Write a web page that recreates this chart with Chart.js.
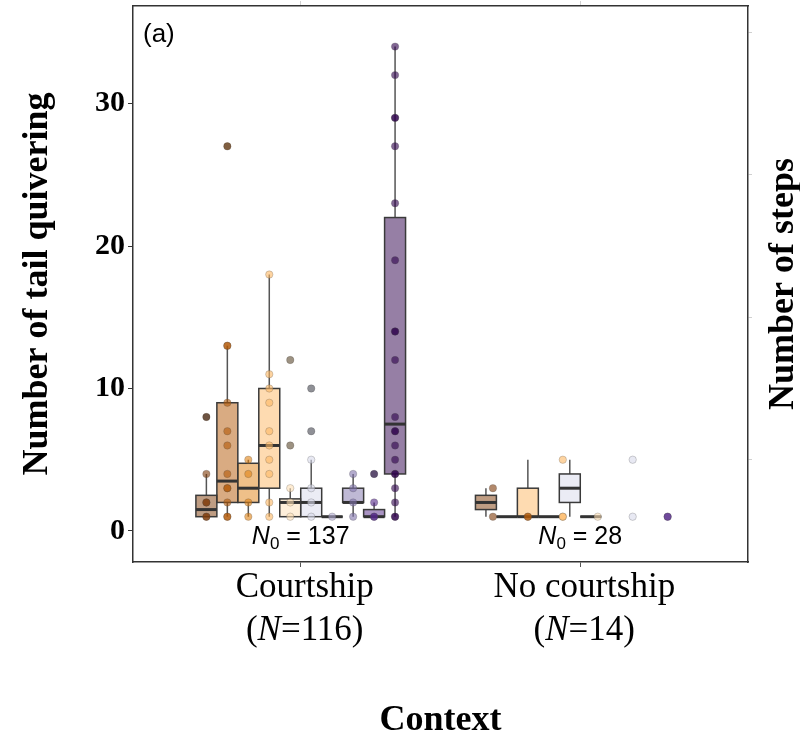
<!DOCTYPE html>
<html>
<head>
<meta charset="utf-8">
<title>Tail quivering by context</title>
<script src="https://cdn.jsdelivr.net/npm/chart.js@4.4.1/dist/chart.umd.min.js"></script>
<style>
  body { margin: 0; background: #fff; }
  canvas { display: block; }
</style>
</head>
<body>
<canvas id="tailChart" width="800" height="737"></canvas>
<script>
'use strict';

let categories = ['Courtship', 'No courtship'];
let categoryN = [116, 14];
let zeroCounts = [137, 28];

let yTicks = [0, 10, 20, 30];
let stepTicks = [5, 15, 25, 35];

// one colour per level (PuOr, brown -> purple)
let levelColors = ['#7f3b08', '#b35806', '#e08214', '#fdb863', '#fee0b6', '#d8daeb', '#b2abd2', '#8073ac', '#542788', '#2d004b'];

// Courtship boxes, one per level
let courtLow = [1, 1, 1, 1, 1, 1, 1, 1, 1, 1];
let courtQ1 = [1, 2, 2, 3, 1, 1, 1, 2, 1, 4];
let courtMedian = [1.5, 3.5, 3, 6, 2, 2, 1, 2, 1, 7.5];
let courtQ3 = [2.5, 9, 4.75, 10, 2.25, 3, 1, 3, 1.5, 22];
let courtHigh = [4, 13, 5, 18, 3, 5, 1, 4, 2, 34];
let courtOutliers = [[8], [27], [], [], [6, 12], [7, 10], [], [], [4], []];
let courtPoints = [
  [1, 1, 2, 2, 4, 8],
  [1, 1, 2, 3, 3, 4, 6, 7, 9, 13, 13, 27],
  [1, 2, 4, 5],
  [1, 2, 4, 5, 6, 7, 9, 10, 11, 18],
  [1, 2, 3, 6, 12],
  [1, 2, 3, 5, 7, 10],
  [1],
  [1, 2, 3, 4],
  [1, 1, 2, 4],
  [1, 1, 2, 3, 4, 4, 5, 6, 7, 7, 8, 12, 14, 14, 19, 23, 27, 29, 29, 32, 34]
];

// No courtship: only six levels present
let noCourtLevels = [0, 1, 3, 4, 5, 8];
let noCourtLow = [1, 1, 1, 1, 1, 1];
let noCourtQ1 = [1.5, 1, 1, 1, 2, 1];
let noCourtMedian = [2, 1, 1, 1, 3, 1];
let noCourtQ3 = [2.5, 1, 3, 1, 4, 1];
let noCourtHigh = [3, 1, 5, 1, 5, 1];
let noCourtPoints = [[1, 3], [1, 1], [1, 1, 5], [1], [1, 5], [1, 1]];

function hexToRgba(hex, alpha) {
  let r = parseInt(hex.slice(1, 3), 16);
  let g = parseInt(hex.slice(3, 5), 16);
  let b = parseInt(hex.slice(5, 7), 16);
  return `rgba(${r},${g},${b},${alpha})`;
}

let boxSlot = 0.075;

function boxCenter(cat, slot) {
  return cat + (slot - 4.5) * boxSlot;
}

function noCourtPointX(j) {
  return 2 + (j - 2.5) * 0.125;
}

// boxes as a flat list built from the arrays above
let boxes = [];
for (let i = 0; i < levelColors.length; i++) {
  boxes.push({ x: boxCenter(1, i), low: courtLow[i], q1: courtQ1[i], med: courtMedian[i], q3: courtQ3[i], high: courtHigh[i], color: levelColors[i] });
}
for (let j = 0; j < noCourtLevels.length; j++) {
  boxes.push({ x: boxCenter(2, j), low: noCourtLow[j], q1: noCourtQ1[j], med: noCourtMedian[j], q3: noCourtQ3[j], high: noCourtHigh[j], color: levelColors[noCourtLevels[j]] });
}

let datasets = [];
for (let i = 0; i < levelColors.length; i++) {
  datasets.push({
    data: courtPoints[i].map(v => ({ x: boxCenter(1, i), y: v })),
    backgroundColor: hexToRgba(levelColors[i], 0.6),
    borderColor: 'rgba(70,70,70,0.3)',
    borderWidth: 0.8,
    pointRadius: 3.7,
    order: 1
  });
}
for (let j = 0; j < noCourtLevels.length; j++) {
  datasets.push({
    data: noCourtPoints[j].map(v => ({ x: noCourtPointX(j), y: v })),
    backgroundColor: hexToRgba(levelColors[noCourtLevels[j]], 0.6),
    borderColor: 'rgba(70,70,70,0.3)',
    borderWidth: 0.8,
    pointRadius: 3.7,
    order: 1
  });
}
let outlierData = [];
for (let i = 0; i < courtOutliers.length; i++) {
  courtOutliers[i].forEach(v => outlierData.push({ x: boxCenter(1, i), y: v }));
}
// boxplot outliers sit on top of the coloured points
datasets.push({
  data: outlierData,
  backgroundColor: 'rgba(0,0,0,0.38)',
  borderWidth: 0,
  pointRadius: 3.7,
  order: 0
});

let boxPlugin = {
  id: 'boxes',
  beforeDatasetsDraw(chart) {
    let ctx = chart.ctx;
    let xs = chart.scales.x;
    let ys = chart.scales.y;
    ctx.save();
    boxes.forEach(b => {
      let cx = xs.getPixelForValue(b.x);
      let left = xs.getPixelForValue(b.x - boxSlot / 2);
      let right = xs.getPixelForValue(b.x + boxSlot / 2);
      let top = ys.getPixelForValue(b.q3);
      let bottom = ys.getPixelForValue(b.q1);
      ctx.strokeStyle = '#555';
      ctx.lineWidth = 1.5;
      ctx.beginPath();
      ctx.moveTo(cx, ys.getPixelForValue(b.high));
      ctx.lineTo(cx, top);
      ctx.moveTo(cx, bottom);
      ctx.lineTo(cx, ys.getPixelForValue(b.low));
      ctx.stroke();
      ctx.fillStyle = hexToRgba(b.color, 0.5);
      ctx.fillRect(left, top, right - left, bottom - top);
      ctx.strokeStyle = '#3a3a3a';
      ctx.lineWidth = 1.5;
      ctx.strokeRect(left, top, right - left, bottom - top);
      ctx.strokeStyle = '#333';
      ctx.lineWidth = 3;
      ctx.beginPath();
      let my = ys.getPixelForValue(b.med);
      ctx.moveTo(left, my);
      ctx.lineTo(right, my);
      ctx.stroke();
    });
    ctx.restore();
  }
};

function drawPieces(ctx, pieces, cx, y) {
  let total = 0;
  pieces.forEach(p => { ctx.font = p.font; p.w = ctx.measureText(p.text).width; total += p.w; });
  let x = cx - total / 2;
  ctx.textAlign = 'left';
  pieces.forEach(p => {
    ctx.font = p.font;
    ctx.fillText(p.text, x, y + (p.dy || 0));
    x += p.w;
  });
}

let labelPlugin = {
  id: 'labels',
  afterDraw(chart) {
    let ctx = chart.ctx;
    let xs = chart.scales.x;
    let ys = chart.scales.y;
    let area = chart.chartArea;
    ctx.save();
    ctx.fillStyle = '#000';
    ctx.textBaseline = 'alphabetic';
    let serif = '"Liberation Serif", serif';
    let sans = '"Liberation Sans", Arial, sans-serif';

    // category labels
    for (let i = 0; i < categories.length; i++) {
      let cx = xs.getPixelForValue(i + 1) + 4;
      drawPieces(ctx, [{ text: categories[i], font: `35px ${serif}` }], cx, area.bottom + 35);
      drawPieces(ctx, [
        { text: '(', font: `35px ${serif}` },
        { text: 'N', font: `italic 35px ${serif}` },
        { text: '=' + categoryN[i] + ')', font: `35px ${serif}` }
      ], cx, area.bottom + 78);
    }

    // N0 annotations
    for (let i = 0; i < zeroCounts.length; i++) {
      let cx = xs.getPixelForValue(i + 1);
      drawPieces(ctx, [
        { text: 'N', font: `italic 25px ${sans}` },
        { text: '0', font: `17px ${sans}`, dy: 5 },
        { text: ' = ' + zeroCounts[i], font: `25px ${sans}` }
      ], cx, ys.getPixelForValue(-0.95));
    }

    // panel tag
    ctx.font = `26px ${sans}`;
    ctx.textAlign = 'left';
    ctx.fillText('(a)', area.left + 10, area.top + 36);

    // axis titles
    ctx.font = `bold 36px ${serif}`;
    ctx.textAlign = 'center';
    ctx.fillText('Context', (area.left + area.right) / 2, 730);

    ctx.save();
    ctx.translate(47, (area.top + area.bottom) / 2);
    ctx.rotate(-Math.PI / 2);
    ctx.fillText('Number of tail quivering', 0, 0);
    ctx.restore();

    ctx.save();
    ctx.translate(793, (area.top + area.bottom) / 2);
    ctx.rotate(-Math.PI / 2);
    ctx.fillText('Number of steps', 0, 0);
    ctx.restore();

    ctx.restore();
  }
};

let yMin = -2.18;
let yMax = 36.85;
let frame = { display: true, color: '#333', width: 1.5 };

function fixSize(prop, size) {
  return s => {
    s[prop] = size;
    s.paddingTop = 0;
    s.paddingBottom = 0;
    s.paddingLeft = 0;
    s.paddingRight = 0;
  };
}

let config = {
  type: 'scatter',
  data: { datasets: datasets },
  options: {
    responsive: false,
    animation: false,
    layout: { padding: 0 },
    plugins: { legend: { display: false }, tooltip: { enabled: false } },
    scales: {
      x: {
        type: 'linear',
        position: 'bottom',
        min: 0.4,
        max: 2.6,
        afterBuildTicks: s => { s.ticks = [{ value: 1 }, { value: 2 }]; },
        ticks: { callback: () => '' },
        grid: { drawOnChartArea: false, tickLength: 5, color: '#555' },
        border: frame,
        afterFit: fixSize('height', 175)
      },
      xTop: {
        type: 'linear',
        position: 'top',
        min: 0.4,
        max: 2.6,
        afterBuildTicks: s => { s.ticks = [{ value: 1 }, { value: 2 }]; },
        ticks: { callback: () => '' },
        grid: { drawOnChartArea: false, tickLength: 5, color: '#d0d0d0' },
        border: frame,
        afterFit: fixSize('height', 6)
      },
      y: {
        type: 'linear',
        position: 'left',
        min: yMin,
        max: yMax,
        afterBuildTicks: s => { s.ticks = yTicks.map(v => ({ value: v })); },
        ticks: { color: '#000', padding: 3, font: { family: '"Liberation Serif", serif', size: 30, weight: 'bold' } },
        grid: { drawOnChartArea: false, tickLength: 5, color: '#333' },
        border: frame,
        afterFit: fixSize('width', 133)
      },
      yRight: {
        type: 'linear',
        position: 'right',
        min: yMin,
        max: yMax,
        afterBuildTicks: s => { s.ticks = stepTicks.map(v => ({ value: v })); },
        ticks: { callback: () => '' },
        grid: { drawOnChartArea: false, tickLength: 4, color: '#d0d0d0' },
        border: frame,
        afterFit: fixSize('width', 52)
      }
    }
  },
  plugins: [boxPlugin, labelPlugin]
};

let tailChart = new Chart(document.getElementById('tailChart'), config);
</script>
</body>
</html>
